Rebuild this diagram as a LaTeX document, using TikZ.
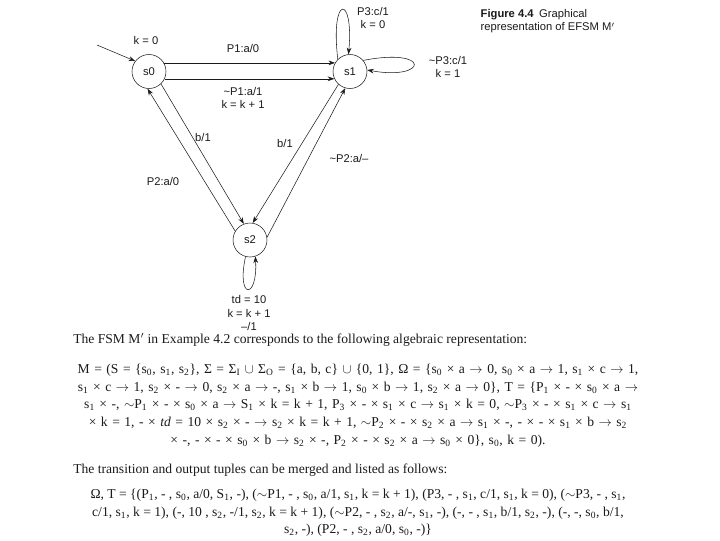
\documentclass[tikz,border=0pt]{standalone}
\usepackage{fontspec}
\setmainfont{Liberation Serif}
\setsansfont{Liberation Sans}
\usepackage{xcolor}
\definecolor{ink}{HTML}{1A1A1A}
\usepackage{tikz}
\usetikzlibrary{arrows.meta, positioning}
\newcommand{\sbs}[1]{\textsubscript{#1}}
\newcommand{\toarr}{$\rightarrow$}
\newcommand{\widespace}{\spaceskip=0.33em\relax}
\tikzset{
  fsmstate/.style={circle, draw, minimum size=25.5pt, inner sep=0pt},
  lbl/.style={font=\sffamily\fontsize{8.4}{10}\selectfont},
  arr/.style={-{Stealth[length=5pt, width=3.5pt]}, thin},
  body/.style={font=\fontsize{10.2}{12}\selectfont, inner sep=0pt},
  algline/.style={body, font=\fontsize{10.2}{12}\selectfont\widespace}
}

\begin{document}
\begin{tikzpicture}[x=0.75pt, y=-0.75pt, ink, lbl]
  \useasboundingbox (0,0) rectangle (720,540);
  \node[fsmstate] (s0) at (149,71.5) {s0};
  \node[fsmstate] (s1) at (350,71.5) {s1};
  \node[fsmstate] (s2) at (250,240) {s2};
  \coordinate (init) at (97,45);
  \draw[arr] (init) -- (s0.143);
  \node (k0) at (146,40) {k = 0};
  \draw[arr] (s0.30) -- (s1.150);
  \node (p1) at (243,48) {P1:a/0};
  \draw[arr] (s0.-25) -- (s1.-155);
  \node[align=center] (np1) at (243,98) {\textasciitilde P1:a/1\\k = k + 1};
  \draw[arr] (s1.135) .. controls (330,-6) and (354,-6) .. (s1.95);
  \node[align=center] (p3) at (373,18) {P3:c/1\\k = 0};
  \draw[arr] (s1.40) .. controls (432,47) and (428,81) .. (s1.5);
  \node[align=center] (np3) at (448,67) {\textasciitilde P3:c/1\\k = 1};
  \draw[arr] (s2.149) -- (s0.265);
  \node (p2) at (163,181) {P2:a/0};
  \draw[arr] (s0.-46) -- (s2.111);
  \node (b0) at (203,137) {b/1};
  \draw[arr] (s1.-132) -- (s2.81);
  \node (b1) at (285,143) {b/1};
  \draw[arr] (s2.9) -- (s1.-106);
  \node (np2) at (349,158) {\textasciitilde P2:a/--};
  \draw[arr] (s2.-105) .. controls (236,300) and (258,300) .. (s2.-72);
  \node[align=center] (td) at (249,313) {td = 10\\k = k + 1\\--/1};
  \node[anchor=west] (cap1) at (476,15) {\textbf{Figure 4.4}\enspace Graphical};
  \node[anchor=west] (cap2) at (476,28) {representation of EFSM M$'$};
  \node[body, anchor=west] (intro) at (73,340) {The FSM M$'$ in Example 4.2 corresponds to the following algebraic representation:};
  \node[algline] (alg1) at (358,370) {M = (S = \{s\sbs{0}, s\sbs{1}, s\sbs{2}\}, Σ = Σ\sbs{I} $\cup$ Σ\sbs{O} = \{a, b, c\} $\cup$ \{0, 1\}, Ω = \{s\sbs{0} × a \toarr{} 0, s\sbs{0} × a \toarr{} 1, s\sbs{1} × c \toarr{} 1,};
  \node[algline] (alg2) at (358,388) {s\sbs{1} × c \toarr{} 1, s\sbs{2} × - \toarr{} 0, s\sbs{2} × a \toarr{} -, s\sbs{1} × b \toarr{} 1, s\sbs{0} × b \toarr{} 1, s\sbs{2} × a \toarr{} 0\}, T = \{P\sbs{1} × - × s\sbs{0} × a \toarr{}};
  \node[algline] (alg3) at (358,405) {s\sbs{1} × -, $\sim$P\sbs{1} × - × s\sbs{0} × a \toarr{} S\sbs{1} × k = k + 1, P\sbs{3} × - × s\sbs{1} × c \toarr{} s\sbs{1} × k = 0, $\sim$P\sbs{3} × - × s\sbs{1} × c \toarr{} s\sbs{1}};
  \node[algline] (alg4) at (358,423) {× k = 1, - × \textit{td} = 10 × s\sbs{2} × - \toarr{} s\sbs{2} × k = k + 1, $\sim$P\sbs{2} × - × s\sbs{2} × a \toarr{} s\sbs{1} × -, - × - × s\sbs{1} × b \toarr{} s\sbs{2}};
  \node[algline] (alg5) at (358,441) {× -, - × - × s\sbs{0} × b \toarr{} s\sbs{2} × -, P\sbs{2} × - × s\sbs{2} × a \toarr{} s\sbs{0} × 0\}, s\sbs{0}, k = 0).};
  \node[body, anchor=west] (merge) at (73,470) {The transition and output tuples can be merged and listed as follows:};
  \node[body] (tup1) at (358,495) {Ω, T = \{(P\sbs{1}, - , s\sbs{0}, a/0, S\sbs{1}, -), ($\sim$P1, - , s\sbs{0}, a/1, s\sbs{1}, k = k + 1), (P3, - , s\sbs{1}, c/1, s\sbs{1}, k = 0), ($\sim$P3, - , s\sbs{1},};
  \node[body] (tup2) at (358,513) {c/1, s\sbs{1}, k = 1), (-, 10 , s\sbs{2}, -/1, s\sbs{2}, k = k + 1), ($\sim$P2, - , s\sbs{2}, a/-, s\sbs{1}, -), (-, - , s\sbs{1}, b/1, s\sbs{2}, -), (-, -, s\sbs{0}, b/1,};
  \node[body] (tup3) at (358,530) {s\sbs{2}, -), (P2, - , s\sbs{2}, a/0, s\sbs{0}, -)\}};
\end{tikzpicture}
\end{document}
